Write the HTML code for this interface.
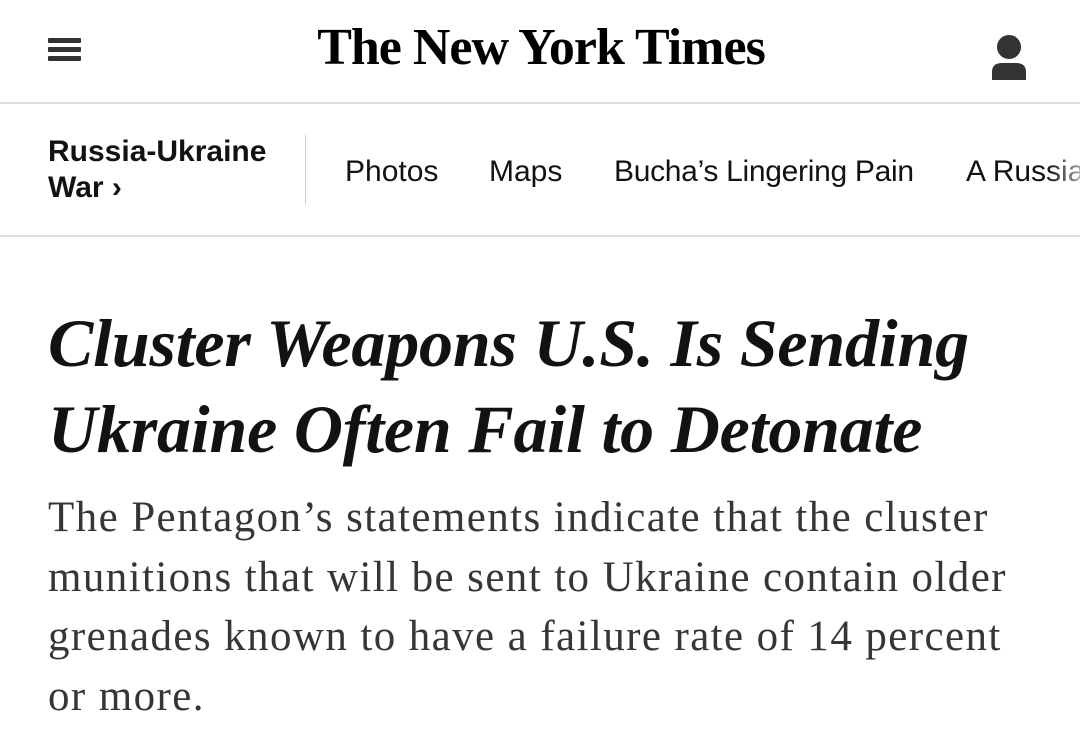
<!DOCTYPE html>
<html><head><meta charset="utf-8"><style>
body{margin:0;width:1080px;height:747px;background:#fff;overflow:hidden;position:relative;font-family:"Liberation Sans",sans-serif;color:#121212}
.abs{position:absolute}
.bar{position:absolute;left:48px;width:33px;height:5px;background:#333;border-radius:1px}
</style></head><body>
<div class="abs" style="left:48px;top:36px;width:33px;height:26px">
<div class="bar" style="left:0;top:2px"></div><div class="bar" style="left:0;top:11px"></div><div class="bar" style="left:0;top:20px"></div></div>
<div class="abs" style="left:300px;top:18px;width:482px;text-align:center;font-family:'Liberation Serif',serif;font-weight:bold;font-size:52px;letter-spacing:-1px;color:#000">The New York Times</div>
<svg class="abs" style="left:990px;top:34px" width="40" height="48"><circle cx="19" cy="13" r="12" fill="#333"/><path d="M2 46 V38 Q2 29 12 29 H26 Q36 29 36 38 V46 Z" fill="#333"/></svg>
<div class="abs" style="left:0;top:102px;width:1080px;height:2px;background:#dcdcdc"></div>
<div class="abs" style="left:48px;top:134px;font-weight:bold;font-size:30px;line-height:36px">Russia-Ukraine<br>War ›</div>
<div class="abs" style="left:305px;top:135px;width:1px;height:69px;background:#ccc"></div>
<div class="abs" style="left:345px;top:155px;font-size:30px">Photos</div>
<div class="abs" style="left:489px;top:155px;font-size:30px">Maps</div>
<div class="abs" style="left:614px;top:155px;font-size:30px;letter-spacing:-0.3px">Bucha’s Lingering Pain</div>
<div class="abs" style="left:966px;top:155px;font-size:30px;white-space:nowrap;-webkit-mask-image:linear-gradient(90deg,#000 60%,transparent);mask-image:linear-gradient(90deg,#000 60%,transparent)">A Russian</div>
<div class="abs" style="left:0;top:235px;width:1080px;height:2px;background:#dcdcdc"></div>
<h1 class="abs" style="margin:0;left:48px;top:300px;width:1030px;font-family:'Liberation Serif',serif;font-weight:bold;font-style:italic;font-size:68px;line-height:86px;letter-spacing:-0.2px;color:#121212">Cluster Weapons U.S. Is Sending Ukraine Often Fail to Detonate</h1>
<p class="abs" style="margin:0;left:48px;top:488px;width:1030px;white-space:nowrap;font-family:'Liberation Serif',serif;font-size:43px;line-height:59.5px;letter-spacing:1.4px;color:#363636">The Pentagon’s statements indicate that the cluster<br>munitions that will be sent to Ukraine contain older<br>grenades known to have a failure rate of 14 percent<br>or more.</p>
</body></html>
